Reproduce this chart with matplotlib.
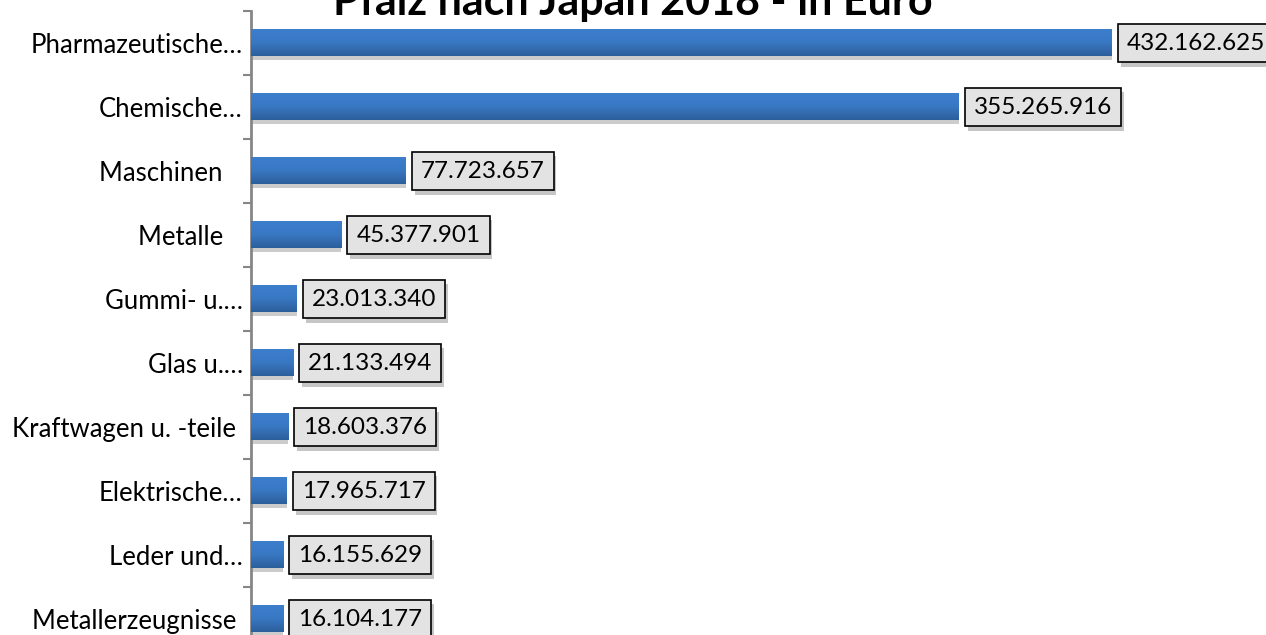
import numpy as np
import matplotlib
matplotlib.use('Agg')
import matplotlib.pyplot as plt
import matplotlib.patheffects as pe

plt.rcParams['font.family'] = ['Lato', 'DejaVu Sans']

# Export Rheinland-Pfalz nach Japan 2018, in Euro
categories = ['Pharmazeutische…', 'Chemische…', 'Maschinen   ', 'Metalle   ',
              'Gummi- u.…', 'Glas u.…', 'Kraftwagen u. -teile ', 'Elektrische…',
              'Leder und…', 'Metallerzeugnisse ']
values = [432162625, 355265916, 77723657, 45377901, 23013340,
          21133494, 18603376, 17965717, 16155629, 16104177]
value_labels = ['432.162.625', '355.265.916', '77.723.657', '45.377.901', '23.013.340',
                '21.133.494', '18.603.376', '17.965.717', '16.155.629', '16.104.177']
title = 'Pfalz nach Japan 2018 - in Euro'

fig = plt.figure(figsize=(12.66, 6.35), dpi=100)
ax = fig.add_axes([251 / 1266, 0.0, 1 - 251 / 1266, 1 - 11 / 635])

y = np.arange(len(categories))
bar_h = 0.41

bars = ax.barh(y, values, height=bar_h, color='#3770b8', zorder=2)
for b in bars:
    b.set_path_effects([pe.SimplePatchShadow(offset=(0, -3), shadow_rgbFace='#9a9a9a', alpha=0.5),
                        pe.Normal()])

# vertical gradient on each bar
grad = np.linspace(0, 1, 64).reshape(-1, 1)
cmap = matplotlib.colors.LinearSegmentedColormap.from_list('bar', ['#3d7fcd', '#3877c2', '#2d5f9c'])
for yi, v in zip(y, values):
    ax.imshow(grad, cmap=cmap, aspect='auto', zorder=3,
              extent=[0, v, yi + bar_h / 2, yi - bar_h / 2])

xmax = (1266 - 251) / (861 / 432162625)
ax.set_xlim(0, xmax)
ax.set_ylim(-0.5 + 624 / 64, -0.5)

for yi, v, lab in zip(y, values, value_labels):
    t = ax.annotate(lab, (v, yi), xytext=(10.8, 0), textcoords='offset points',
                    ha='left', va='center', fontsize=17.5, color='black', zorder=5,
                    bbox=dict(boxstyle='square,pad=0.37', fc='#e3e3e3', ec='black', lw=1.2))
    t.get_bbox_patch().set_path_effects([pe.SimplePatchShadow(offset=(2, -3), alpha=0.3), pe.Normal()])

ax.set_yticks(y)
ax.set_yticklabels(categories, fontsize=18.5)
ax.set_yticks(np.arange(-0.5, 9.5, 1), minor=True)
ax.tick_params(axis='y', which='major', length=0, pad=6)
ax.tick_params(axis='y', which='minor', length=6, width=1.5, color='#868686')
ax.set_xticks([])

for s in ['top', 'right', 'bottom']:
    ax.spines[s].set_visible(False)
ax.spines['left'].set_color('#868686')
ax.spines['left'].set_linewidth(2)

fig.text(0.5, 1 - 15 / 635, title, ha='center', va='baseline',
         fontsize=31, fontweight='bold')

fig.savefig('out.png', dpi=100)
